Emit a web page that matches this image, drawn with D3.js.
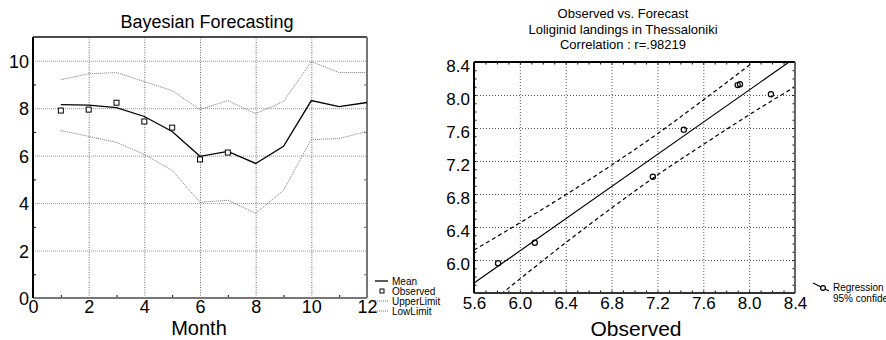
<!DOCTYPE html>
<html>
<head>
<meta charset="utf-8" />
<title>Bayesian Forecasting</title>
<script src="https://d3js.org/d3.v7.min.js"></script>
<style>
body{margin:0;background:#fff;}
svg{display:block;font-family:"Liberation Sans",Arial,sans-serif;}
</style>
</head>
<body>
<div id="chart"></div>
<script>
// left panel: monthly forecast
var months=[1,2,3,4,5,6,7,8,9,10,11,12];
var meanVals=[8.15,8.13,8.02,7.65,7.02,5.97,6.18,5.67,6.39,8.32,8.07,8.24];
var upperVals=[9.2,9.45,9.5,9.12,8.74,7.94,8.32,7.77,8.28,9.96,9.5,9.5];
var lowVals=[7.06,6.81,6.56,6.05,5.38,4.03,4.12,3.57,4.54,6.68,6.72,7.02];
var obsMonths=[1,2,3,4,5,6,7];
var obsVals=[7.9,7.94,8.23,7.44,7.18,5.84,6.13];
var monthTicks=[0,2,4,6,8,10,12];
var leftYTicks=[0,2,4,6,8,10];
var leftNames=["Mean","Observed","UpperLimit","LowLimit"];

// right panel: observed vs forecast
var scatterObs=[7.9,7.92,8.19,7.43,7.16,5.81,6.13];
var scatterFc=[8.12,8.13,8.01,7.58,7.01,5.96,6.21];
var regX=[5.6,8.4];
var regY=[5.72,8.45];
var bandX=[5.6,6.0,6.4,6.8,7.2,7.6,8.0,8.4];
var bandUpper=[6.12,6.45,6.79,7.15,7.53,7.94,8.36,8.80];
var bandLower=[5.32,5.77,6.21,6.63,7.03,7.40,7.76,8.10];
var rightXTicks=[5.6,6.0,6.4,6.8,7.2,7.6,8.0,8.4];
var rightYTicks=[6.0,6.4,6.8,7.2,7.6,8.0,8.4];
var rightNames=["Regression","95% confidence"];

var W=886,H=340;
var svg=d3.select("#chart").append("svg").attr("width",W).attr("height",H);

// ---------- left chart ----------
var xL=d3.scaleLinear().domain([0,12]).range([33,367]);
var yL=d3.scaleLinear().domain([0,11]).range([298,37]);
var gL=svg.append("g");

// grid
gL.append("g").attr("transform","translate(0,"+yL(0)+")")
  .call(d3.axisBottom(xL).tickValues(monthTicks.slice(1,-1)).tickSize(-(yL(0)-yL(11))).tickFormat(""))
  .call(g=>g.select(".domain").remove())
  .selectAll("line").attr("stroke","#666").attr("stroke-dasharray","1,1.5");
gL.append("g").attr("transform","translate("+xL(0)+",0)")
  .call(d3.axisLeft(yL).tickValues(leftYTicks.slice(1)).tickSize(-(xL(12)-xL(0))).tickFormat(""))
  .call(g=>g.select(".domain").remove())
  .selectAll("line").attr("stroke","#999").attr("stroke-dasharray","1,1");

// minor ticks
var oddX=d3.range(1,12,2), oddY=d3.range(1,11,2);
gL.append("g").attr("transform","translate(0,"+yL(0)+")")
  .call(d3.axisBottom(xL).tickValues(oddX).tickSize(-3).tickFormat(""))
  .call(g=>g.select(".domain").remove());
gL.append("g").attr("transform","translate("+xL(0)+",0)")
  .call(d3.axisLeft(yL).tickValues(oddY).tickSize(-3).tickFormat(""))
  .call(g=>g.select(".domain").remove());
gL.append("g").attr("transform","translate("+xL(12)+",0)")
  .call(d3.axisRight(yL).tickValues(oddY).tickSize(-3).tickFormat(""))
  .call(g=>g.select(".domain").remove()).selectAll("line").attr("stroke","#666");

// frame
gL.append("line").attr("x1",xL(0)).attr("x2",xL(12)).attr("y1",yL(11)).attr("y2",yL(11)).attr("stroke","#111").attr("stroke-width",1.5);
gL.append("line").attr("x1",xL(12)).attr("x2",xL(12)).attr("y1",yL(11)).attr("y2",yL(0)).attr("stroke","#777").attr("stroke-width",2);
gL.append("line").attr("x1",xL(0)).attr("x2",xL(12)).attr("y1",yL(0)).attr("y2",yL(0)).attr("stroke","#777").attr("stroke-width",2);
gL.append("line").attr("x1",xL(0)).attr("x2",xL(0)).attr("y1",yL(11)).attr("y2",yL(0)).attr("stroke","#000").attr("stroke-width",2);

// tick labels
gL.append("g").attr("transform","translate("+xL(0)+",0)")
  .call(d3.axisLeft(yL).tickValues(leftYTicks).tickSize(0).tickPadding(4))
  .call(g=>g.select(".domain").remove())
  .selectAll("text").attr("font-size",18).attr("font-family","Liberation Sans, Arial, sans-serif").attr("fill","#000").attr("dy","0.36em");
gL.append("g").attr("transform","translate(0,"+yL(0)+")")
  .call(d3.axisBottom(xL).tickValues(monthTicks).tickSize(0).tickPadding(2))
  .call(g=>g.select(".domain").remove())
  .selectAll("text").attr("font-size",18).attr("font-family","Liberation Sans, Arial, sans-serif").attr("fill","#000");

// series
var lineL=d3.line().x((d,i)=>xL(months[i])).y(d=>yL(d));
gL.append("path").attr("d",lineL(upperVals)).attr("fill","none").attr("stroke","#777").attr("stroke-width",1).attr("stroke-dasharray","1,1");
gL.append("path").attr("d",lineL(lowVals)).attr("fill","none").attr("stroke","#777").attr("stroke-width",1).attr("stroke-dasharray","1,1");
gL.append("path").attr("d",lineL(meanVals)).attr("fill","none").attr("stroke","#000").attr("stroke-width",1.3);
gL.selectAll(".obs").data(obsVals).enter().append("rect").attr("class","obs")
  .attr("x",(d,i)=>xL(obsMonths[i])-2.5).attr("y",d=>yL(d)-2.5)
  .attr("width",5).attr("height",5).attr("fill","#fff").attr("stroke","#000").attr("stroke-width",1);

gL.append("text").attr("x",207).attr("y",28).attr("text-anchor","middle").attr("font-size",18).text("Bayesian Forecasting");
gL.append("text").attr("x",199).attr("y",335).attr("text-anchor","middle").attr("font-size",20).text("Month");

// legend
var legL=gL.selectAll(".legL").data(leftNames).enter().append("g").attr("class","legL")
  .attr("transform",(d,i)=>"translate(375,"+(281+i*10)+")");
legL.append("text").attr("x",17).attr("dy","0.35em").attr("font-size",10).text(d=>d);
legL.filter((d,i)=>i==0).append("line").attr("x1",0).attr("x2",13).attr("stroke","#000").attr("stroke-width",1.3);
legL.filter((d,i)=>i==1).append("rect").attr("x",5).attr("y",-2).attr("width",4).attr("height",4).attr("fill","#fff").attr("stroke","#000");
legL.filter((d,i)=>i>1).append("line").attr("x1",0).attr("x2",13).attr("stroke","#777").attr("stroke-dasharray","1,1");

// ---------- right chart ----------
var xR=d3.scaleLinear().domain([5.6,8.4]).range([474,795]);
var yR=d3.scaleLinear().domain([5.6,8.4]).range([293,62]);
var gR=svg.append("g");

gR.append("g").attr("transform","translate(0,"+yR(5.6)+")")
  .call(d3.axisBottom(xR).tickValues(rightXTicks.slice(1,-1)).tickSize(-(yR(5.6)-yR(8.4))).tickFormat(""))
  .call(g=>g.select(".domain").remove())
  .selectAll("line").attr("stroke","#555").attr("stroke-dasharray","1,2");
gR.append("g").attr("transform","translate("+xR(5.6)+",0)")
  .call(d3.axisLeft(yR).tickValues(rightYTicks.slice(0,-1)).tickSize(-(xR(8.4)-xR(5.6))).tickFormat(""))
  .call(g=>g.select(".domain").remove())
  .selectAll("line").attr("stroke","#555").attr("stroke-dasharray","1,2");

var minorR=d3.range(57,84).map(v=>v/10);
gR.append("g").attr("transform","translate(0,"+yR(5.6)+")")
  .call(d3.axisBottom(xR).tickValues(minorR).tickSize(-2.5).tickFormat("")).call(g=>g.select(".domain").remove());
gR.append("g").attr("transform","translate(0,"+yR(8.4)+")")
  .call(d3.axisTop(xR).tickValues(minorR).tickSize(-2.5).tickFormat("")).call(g=>g.select(".domain").remove());
gR.append("g").attr("transform","translate("+xR(5.6)+",0)")
  .call(d3.axisLeft(yR).tickValues(minorR).tickSize(-2.5).tickFormat("")).call(g=>g.select(".domain").remove());
gR.append("g").attr("transform","translate("+xR(8.4)+",0)")
  .call(d3.axisRight(yR).tickValues(minorR).tickSize(-2.5).tickFormat("")).call(g=>g.select(".domain").remove());

gR.append("clipPath").attr("id","clipR").append("rect")
  .attr("x",xR(5.6)).attr("y",yR(8.4)).attr("width",xR(8.4)-xR(5.6)).attr("height",yR(5.6)-yR(8.4));
var plotR=gR.append("g").attr("clip-path","url(#clipR)");
var bandLine=d3.line().x((d,i)=>xR(bandX[i])).y(d=>yR(d)).curve(d3.curveMonotoneX);
plotR.append("path").attr("d",bandLine(bandUpper)).attr("fill","none").attr("stroke","#000").attr("stroke-width",1.2).attr("stroke-dasharray","4,3");
plotR.append("path").attr("d",bandLine(bandLower)).attr("fill","none").attr("stroke","#000").attr("stroke-width",1.2).attr("stroke-dasharray","4,3");
plotR.append("path").attr("d",d3.line().x((d,i)=>xR(regX[i])).y(d=>yR(d))(regY)).attr("fill","none").attr("stroke","#000").attr("stroke-width",1.2);
gR.selectAll(".pt").data(scatterFc).enter().append("circle").attr("class","pt")
  .attr("cx",(d,i)=>xR(scatterObs[i])).attr("cy",d=>yR(d)).attr("r",2.6)
  .attr("fill","none").attr("stroke","#000").attr("stroke-width",1.2);

// frame
gR.append("line").attr("x1",xR(5.6)).attr("x2",xR(8.4)).attr("y1",yR(8.4)).attr("y2",yR(8.4)).attr("stroke","#000").attr("stroke-width",2);
gR.append("line").attr("x1",xR(8.4)).attr("x2",xR(8.4)).attr("y1",yR(8.4)).attr("y2",yR(5.6)).attr("stroke","#666").attr("stroke-width",2);
gR.append("line").attr("x1",xR(5.6)).attr("x2",xR(8.4)).attr("y1",yR(5.6)).attr("y2",yR(5.6)).attr("stroke","#333").attr("stroke-width",2);
gR.append("line").attr("x1",xR(5.6)).attr("x2",xR(5.6)).attr("y1",yR(8.4)).attr("y2",yR(5.6)).attr("stroke","#000").attr("stroke-width",2);

gR.append("g").attr("transform","translate("+xR(5.6)+",0)")
  .call(d3.axisLeft(yR).tickValues(rightYTicks).tickSize(0).tickPadding(4).tickFormat(d3.format(".1f")))
  .call(g=>g.select(".domain").remove())
  .selectAll("text").attr("font-size",17).attr("font-family","Liberation Sans, Arial, sans-serif").attr("fill","#000").attr("dy","0.55em");
gR.append("g").attr("transform","translate(0,"+yR(5.6)+")")
  .call(d3.axisBottom(xR).tickValues(rightXTicks).tickSize(0).tickPadding(4).tickFormat(d3.format(".1f")))
  .call(g=>g.select(".domain").remove())
  .selectAll("text").attr("font-size",17).attr("font-family","Liberation Sans, Arial, sans-serif").attr("fill","#000");

var titleR=["Observed vs. Forecast","Loliginid landings in Thessaloniki","Correlation : r=.98219"];
gR.selectAll(".tR").data(titleR).enter().append("text").attr("class","tR")
  .attr("x",623).attr("y",(d,i)=>18+i*15.5).attr("text-anchor","middle").attr("font-size",13).text(d=>d);
gR.append("text").attr("x",636).attr("y",336).attr("text-anchor","middle").attr("font-size",21).text("Observed");

// legend
gR.append("line").attr("x1",813).attr("y1",283).attr("x2",829).attr("y2",291).attr("stroke","#000").attr("stroke-width",1.2);
gR.append("circle").attr("cx",823).attr("cy",288).attr("r",2.4).attr("fill","#fff").attr("stroke","#000").attr("stroke-width",1.2);
gR.selectAll(".legR").data(rightNames).enter().append("text").attr("class","legR")
  .attr("x",833).attr("y",(d,i)=>287+i*11).attr("dy","0.35em").attr("font-size",10).text(d=>d);
</script>
</body>
</html>
